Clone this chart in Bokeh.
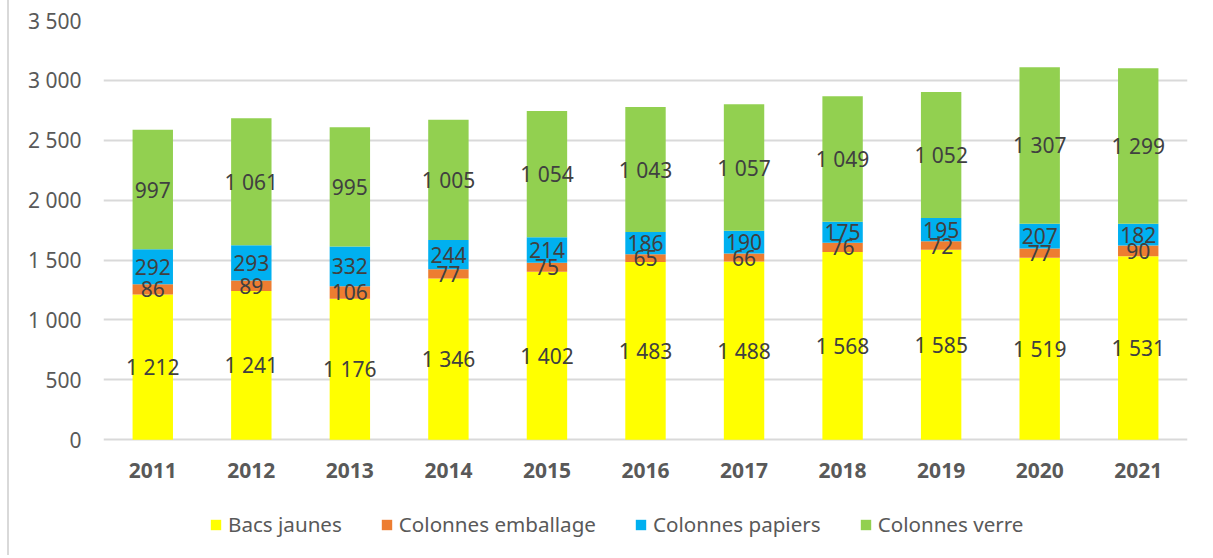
from bokeh.plotting import figure
from bokeh.models import Legend, LegendItem, ColumnDataSource, FixedTicker
from bokeh.core.properties import value
from bokeh.embed import file_html
from bokeh.resources import INLINE

years = ["2011", "2012", "2013", "2014", "2015", "2016", "2017", "2018", "2019", "2020", "2021"]
bacs_jaunes = [1212, 1241, 1176, 1346, 1402, 1483, 1488, 1568, 1585, 1519, 1531]
colonnes_emballage = [86, 89, 106, 77, 75, 65, 66, 76, 72, 77, 90]
colonnes_papiers = [292, 293, 332, 244, 214, 186, 190, 175, 195, 207, 182]
colonnes_verre = [997, 1061, 995, 1005, 1054, 1043, 1057, 1049, 1052, 1307, 1299]
series_names = ["Bacs jaunes", "Colonnes emballage", "Colonnes papiers", "Colonnes verre"]
series_keys = ["bj", "ce", "cp", "cv"]
colors = ["#FFFF00", "#ED7D31", "#00B0F0", "#92D050"]
y_ticks = [0, 500, 1000, 1500, 2000, 2500, 3000, 3500]
y_tick_labels = ["0", "500", "1 000", "1 500", "2 000", "2 500", "3 000", "3 500"]

FONT = "Noto Sans"

def fmt(v):
    return f"{v:,}".replace(",", " ")

data = dict(years=years, bj=bacs_jaunes, ce=colonnes_emballage, cp=colonnes_papiers, cv=colonnes_verre)
src = ColumnDataSource(data)

# frame: top (3500) at y=20, value 0 at y=439, frame extends to y=550 to host the legend
px_per_unit = (439.3 - 20.5) / 3500.0
y_start = -(550 - 439.3) / px_per_unit

p = figure(x_range=years, y_range=(y_start, 3500), width=1200, height=555,
           output_backend="svg", toolbar_location=None,
           min_border_left=94, min_border_right=22, min_border_top=20, min_border_bottom=5)
p.outline_line_color = None
p.styles = {"margin-left": "7px", "border-left": "2px solid #d9d9d9"}

renderers = p.vbar_stack(series_keys, x="years", width=0.41, color=colors, line_color=None, source=src)

# data labels
all_series = [bacs_jaunes, colonnes_emballage, colonnes_papiers, colonnes_verre]
base = [0] * len(years)
for vals in all_series:
    mids = [b + v / 2 for b, v in zip(base, vals)]
    p.text(x=years, y=mids, text=[fmt(v) for v in vals], text_align="center", text_baseline="middle",
           text_font=value(FONT), text_font_size="21px", text_color="#404040")
    base = [b + v for b, v in zip(base, vals)]

p.yaxis.ticker = FixedTicker(ticks=y_ticks)
p.yaxis.major_label_overrides = {t: l for t, l in zip(y_ticks, y_tick_labels)}
for ax in (p.xaxis, p.yaxis):
    ax.axis_line_color = None
    ax.major_tick_line_color = None
    ax.minor_tick_line_color = None
    ax.major_label_text_font = FONT
    ax.major_label_text_color = "#595959"
    ax.major_label_text_font_size = "21px"
p.yaxis.major_label_standoff = 16
p.xaxis.major_label_text_font_style = "bold"
p.xaxis.major_label_standoff = 17
p.xaxis.fixed_location = 0

p.xgrid.grid_line_color = None
p.ygrid.grid_line_color = "#d9d9d9"
p.ygrid.grid_line_width = 2

legend = Legend(items=[LegendItem(label=n, renderers=[r]) for n, r in zip(series_names, renderers)],
                orientation="horizontal", location=(106, 12),
                label_text_font=FONT, label_text_font_size="20.6px", label_text_color="#595959",
                glyph_width=13, glyph_height=13, label_standoff=6, spacing=38,
                border_line_color=None, background_fill_alpha=0, margin=0, padding=4)
p.add_layout(legend)

open("out.html", "w").write(file_html(p, INLINE))
